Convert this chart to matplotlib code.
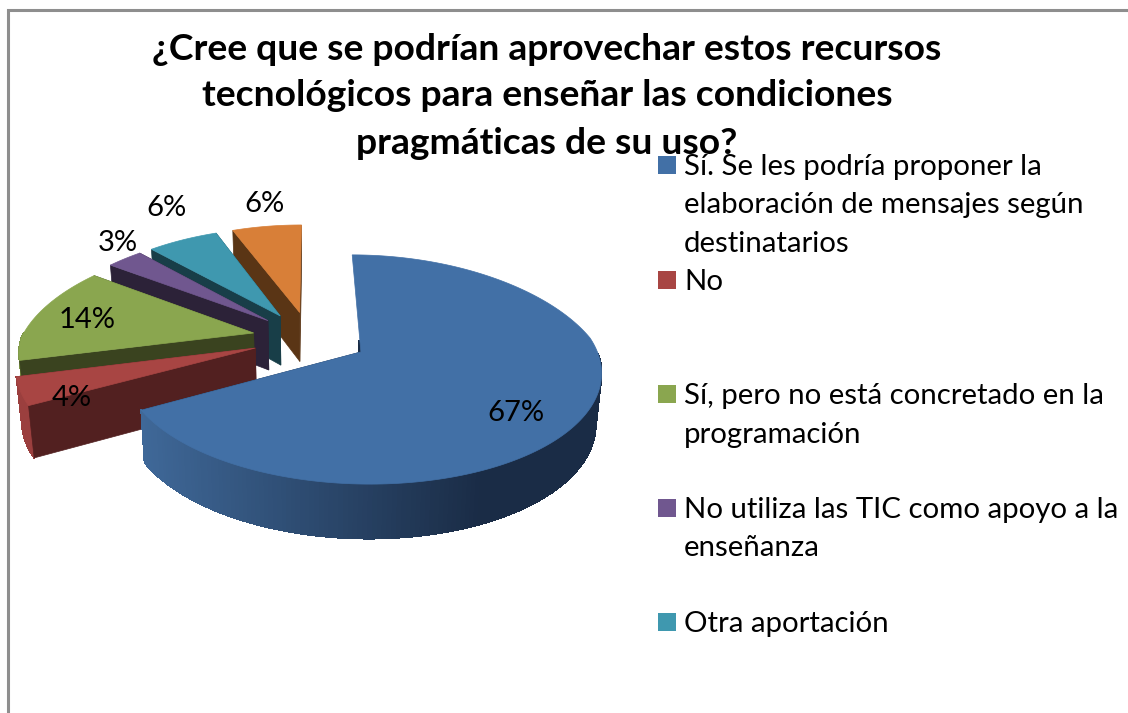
import numpy as np
import matplotlib
matplotlib.use("Agg")
import matplotlib.pyplot as plt
from matplotlib.collections import PolyCollection
from matplotlib.colors import to_rgb
from matplotlib.patches import Polygon, Rectangle

plt.rcParams['font.family'] = ['Lato', 'DejaVu Sans']

title_lines = ["¿Cree que se podrían aprovechar estos recursos",
               "tecnológicos para enseñar las condiciones",
               "pragmáticas de su uso?"]
values = [67, 4, 14, 3, 6, 6]
legend_lines = [["Sí. Se les podría proponer la", "elaboración de mensajes según", "destinatarios"],
                ["No"],
                ["Sí, pero no está concretado en la", "programación"],
                ["No utiliza las TIC como apoyo a la", "enseñanza"],
                ["Otra aportación"]]

top_colors = ['#4270A6', '#A84543', '#8AA64F', '#70578F', '#3F98AF', '#D87F38']
wall_colors = ['#1A2C46', '#522020', '#3A431F', '#2C2238', '#183E48', '#5A3515']

# layout, in pixels of the 1128x713 picture
label_pos = [(516, 413), (72, 398), (87, 320), (118, 243), (166, 208), (264, 204)]
legend_y = [165, 280, 394, 508, 622]
line_step = 38.5
X0, Y0, BX, AY, KP = 310, 338, 232, 107.7, 0.15
EXPLODE = 0.25


def project(u, v):
    den = 1 + KP * v
    # the far half narrows a little faster than the near half
    den_x = den + 0.06 * np.maximum(v, 0)
    return X0 + BX * u / den_x, Y0 - AY * v / den


def drop(x, y, v):
    # same point on the underside of the pie
    return X0 + (x - X0) * 0.98, y + 50 - 4 * v


def lerp(c1, c2, t):
    a, b = np.array(to_rgb(c1)), np.array(to_rgb(c2))
    return tuple(a + (b - a) * min(max(t, 0), 1))


fig = plt.figure(figsize=(11.28, 7.13), dpi=100)
ax = fig.add_axes([0, 0, 1, 1])
ax.set_xlim(0, 1128)
ax.set_ylim(713, 0)
ax.axis('off')

# chart border, only left and top fall inside the picture
ax.plot([8, 8, 1128], [713, 10, 10], color='#8E8E8E', lw=2.2, solid_joinstyle='miter')

edges = np.cumsum([0] + values) / sum(values) * 2 * np.pi
n = len(values)
# back slices first, blue goes last because it sits in front
for i in list(range(n - 1, 0, -1)) + [0]:
    a0, a1 = edges[i], edges[i + 1]
    mid = (a0 + a1) / 2
    cu, cv = EXPLODE * np.sin(mid), EXPLODE * np.cos(mid)
    th = np.linspace(a0, a1, 240)
    us, vs = cu + np.sin(th), cv + np.cos(th)
    xs, ys = project(us, vs)
    bx, by = drop(xs, ys, vs)
    ax_, ay_ = project(cu, cv)
    abx, aby = drop(ax_, ay_, cv)

    # far radial wall, rim, near radial wall, then the top
    ax.add_patch(Polygon([(ax_, ay_), (xs[-1], ys[-1]), (bx[-1], by[-1]), (abx, aby)],
                         fc=wall_colors[i], ec=wall_colors[i], lw=0.5))
    quads, cols = [], []
    for j in range(len(th) - 1):
        if np.cos(th[j]) > 0:
            continue  # rim faces away from the viewer here
        quads.append([(xs[j], ys[j]), (xs[j + 1], ys[j + 1]), (bx[j + 1], by[j + 1]), (bx[j], by[j])])
        if i == 0:
            cols.append(lerp('#3F6898', wall_colors[0], (xs[j] - 142) / 340))
        else:
            cols.append(lerp(top_colors[i], wall_colors[i], 0.15))
    ax.add_collection(PolyCollection(quads, facecolors=cols, edgecolors=cols, linewidths=0.6,
                                     antialiaseds=False))
    if i == 0:
        # only a sliver of this wall shows next to the tip
        ax.add_patch(Polygon([(ax_ + 1, ay_ + 1), (ax_ + 1, ay_ - 12), (ax_ - 3, ay_ - 12), (ax_ - 3, ay_ + 1)],
                             fc=wall_colors[i], ec='none'))
    else:
        ax.add_patch(Polygon([(ax_, ay_), (xs[0], ys[0]), (bx[0], by[0]), (abx, aby)],
                             fc=wall_colors[i], ec=wall_colors[i], lw=0.5))
    ax.add_patch(Polygon(np.column_stack([np.r_[ax_, xs], np.r_[ay_, ys]]),
                         fc=top_colors[i], ec=top_colors[i], lw=0.5))

for val, (lx, ly) in zip(values, label_pos):
    ax.text(lx, ly, f"{val}%", fontsize=21, color='black', ha='center', va='center')

for y0, lines, col in zip(legend_y, legend_lines, top_colors):
    ax.add_patch(Rectangle((658, y0 - 9), 18, 18, fc=col, ec='none'))
    for k, line in enumerate(lines):
        ax.text(684, y0 + 2 + k * line_step, line, fontsize=21.2, color='black', ha='left', va='center')

for line, y in zip(title_lines, [49, 95, 143]):
    ax.text(547, y, line, fontsize=26.8, fontweight='bold', color='black', ha='center', va='center')

fig.savefig('out.png', dpi=100)
